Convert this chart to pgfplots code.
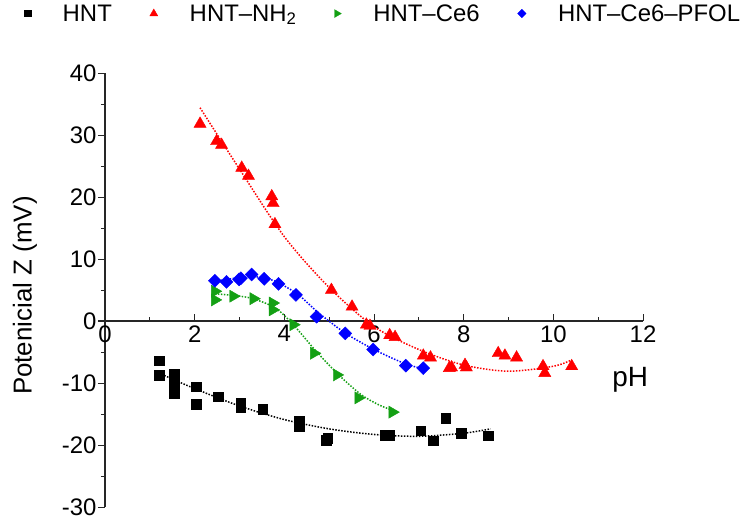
\documentclass[border=0pt]{standalone}
\usepackage{pgfplots}
\pgfplotsset{compat=1.18}
\usepackage{fontspec}
\setmainfont{Liberation Sans}
\definecolor{cred}{RGB}{255,0,0}
\definecolor{cgreen}{RGB}{20,160,20}
\definecolor{cblue}{RGB}{0,0,255}
\begin{document}
\begin{tikzpicture}
\useasboundingbox (-105bp,-12bp) rectangle (639bp,507bp);
\begin{axis}[
  at={(0,0)}, anchor=south west,
  scale only axis, width=538bp, height=434bp,
  xmin=0, xmax=12, ymin=-30, ymax=40,
  axis lines=middle,
  axis line style={-, line width=1.2bp, black!85},
  every inner x axis line/.append style={shorten <=-7bp},
  hide obscured x ticks=false, hide obscured y ticks=false,
  xtick={0,2,...,12}, ytick={-30,-20,...,40},
  minor x tick num=1, minor y tick num=1,
  tick align=inside,
  major tick length=7bp, minor tick length=4bp,
  tick style={line width=1bp, black!85},
  every major y tick/.append style={xshift=-7bp},
  every minor y tick/.append style={xshift=-4bp},
  /pgf/number format/assume math mode=true,
  tick label style={font=\fontsize{24}{28}\selectfont},
  yticklabel style={xshift=-5bp},
  xticklabel style={yshift=-1bp},
  every axis x label/.style={at={(axis description cs:0.976,0.293)}, anchor=center, font=\fontsize{28}{32}\selectfont},
  every axis y label/.style={at={(axis description cs:-0.149,0.487)}, anchor=center, rotate=90, font=\fontsize{26}{30}\selectfont},
  xlabel={pH}, ylabel={Potenicial Z (mV)},
  clip=false,
  legend columns=-1,
  legend style={draw=none, fill=none, at={(axis description cs:-0.150,1.137)}, anchor=west,
    font=\fontsize{24}{28}\selectfont, inner sep=0pt,
    /tikz/every odd column/.append style={column sep=30bp},
    /tikz/every even column/.append style={column sep=36bp}},
  legend image post style={every mark/.append style={scale=0.65}},
]
% HNT
\addplot[only marks, mark=square*, mark size=4.8bp, color=black] coordinates {
(1.21,-6.4)(1.21,-8.7)(1.54,-8.6)(1.54,-10.3)(1.54,-11.6)(2.03,-10.6)(2.03,-13.4)
(2.53,-12.2)(3.03,-13.2)(3.03,-13.9)(3.52,-14.2)(4.33,-16.2)(4.33,-17.0)(4.94,-19.2)
(4.97,-18.9)(6.24,-18.4)(6.34,-18.4)(7.04,-17.7)(7.32,-19.3)(7.60,-15.7)(7.94,-18.1)(8.55,-18.5)};
\addlegendentry{HNT}
% HNT-NH2
\addplot[only marks, mark=triangle*, mark size=7bp, color=cred] coordinates {
(2.12,31.8)(2.49,29.0)(2.60,28.4)(3.05,24.7)(3.20,23.4)(3.72,20.1)(3.75,19.0)(3.79,15.6)
(5.05,5.0)(5.51,2.3)(5.83,-0.6)(5.91,-0.8)(6.35,-2.3)(6.47,-2.6)(7.10,-5.6)(7.26,-5.9)
(7.68,-7.6)(7.73,-7.5)(8.03,-7.1)(8.06,-7.5)(8.77,-5.2)(8.92,-5.6)(9.18,-5.9)(9.77,-7.3)(9.81,-8.4)(10.41,-7.3)};
\addlegendentry{HNT\textendash NH\textsubscript{2}}
% HNT-Ce6
\addplot[only marks, mark=triangle*, mark size=7bp, color=cgreen, mark options={rotate=-90}] coordinates {
(2.45,4.8)(2.45,3.4)(2.86,4.0)(3.31,3.6)(3.74,2.9)(3.74,1.8)(4.20,-0.6)(4.66,-5.2)
(5.17,-8.7)(5.65,-12.4)(6.41,-14.7)};
\addlegendentry{HNT\textendash Ce6}
% HNT-Ce6-PFOL
\addplot[only marks, mark=square*, mark size=4.6bp, color=cblue, mark options={rotate=45}] coordinates {
(2.45,6.5)(2.71,6.3)(2.99,6.7)(3.03,6.9)(3.27,7.5)(3.55,6.8)(3.87,6.0)(4.26,4.2)
(4.72,0.7)(5.36,-2.0)(5.98,-4.6)(6.71,-7.2)(7.10,-7.6)};
\addlegendentry{HNT\textendash Ce6\textendash PFOL}
% fit curves
\addplot[forget plot, smooth, black, line width=1.5bp, dash pattern=on 1.5bp off 1.5bp] coordinates {
(1.2,-8.4)(2.0,-10.9)(3.0,-13.7)(4.0,-15.9)(5.0,-17.4)(6.0,-18.3)(7.0,-18.6)(8.0,-18.1)(8.6,-17.4)};
\addplot[forget plot, smooth, cred, line width=1.5bp, dash pattern=on 1.5bp off 1.5bp] coordinates {
(2.12,34.4)(3.0,24.5)(4.0,13.6)(5.0,5.4)(6.0,-0.9)(7.0,-4.6)(8.0,-7.1)(9.0,-8.1)(10.0,-7.3)(10.4,-6.3)};
\addplot[forget plot, smooth, cgreen, line width=1.5bp, dash pattern=on 1.5bp off 1.5bp] coordinates {
(2.45,4.4)(2.9,4.1)(3.3,3.6)(3.8,2.1)(4.2,-0.6)(4.7,-4.8)(5.2,-8.6)(5.7,-11.8)(6.1,-13.5)(6.45,-14.5)};
\addplot[forget plot, smooth, cblue, line width=1.5bp, dash pattern=on 1.5bp off 1.5bp] coordinates {
(2.45,6.4)(3.0,7.0)(3.4,7.1)(3.8,6.4)(4.3,4.3)(4.75,1.4)(5.35,-1.9)(6.0,-4.6)(6.7,-6.9)(7.2,-7.9)};
\end{axis}
\end{tikzpicture}
\end{document}
